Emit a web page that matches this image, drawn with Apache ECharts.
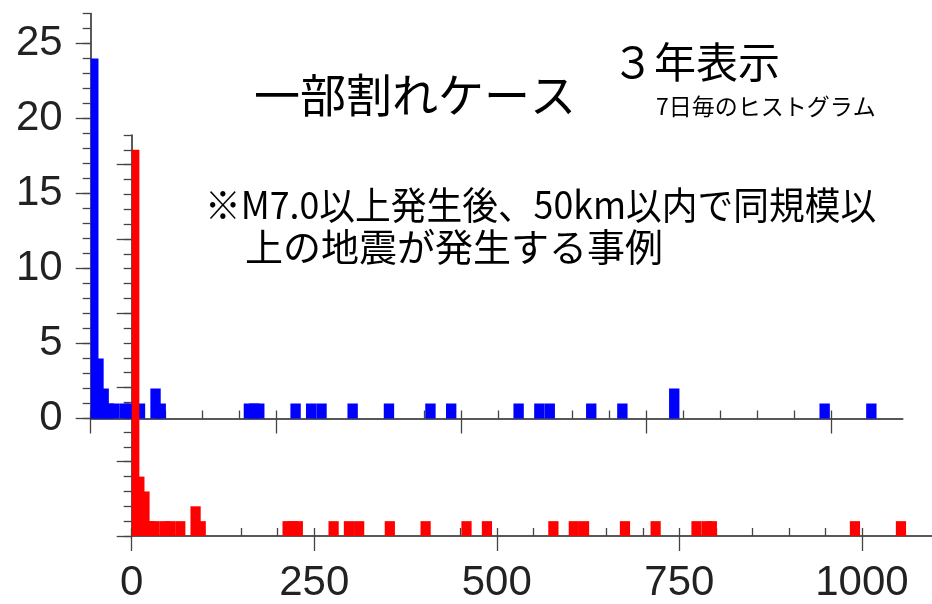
<!DOCTYPE html>
<html>
<head>
<meta charset="utf-8">
<script src="https://cdn.jsdelivr.net/npm/echarts@6/dist/echarts.min.js"></script>
<style>
  html, body { margin: 0; padding: 0; background: #fff; }
  #chart { width: 932px; height: 604px; }
</style>
</head>
<body>
<div id="chart"></div>
<script>
// Weekly histograms: bin index (days / 7) and number of events in that bin
const BIN_DAYS = 7;
const blueBins   = [0, 1, 2, 3, 4, 6, 7, 9, 12, 13, 30, 31, 32, 39, 42, 44, 50, 57, 65, 69, 82, 86, 88, 96, 102, 112, 141, 150];
const blueCounts = [24, 4, 2, 1, 1, 1, 1, 1, 2, 1, 1, 1, 1, 1, 1, 1, 1, 1, 1, 1, 1, 1, 1, 1, 1, 2, 1, 1];
const redBins    = [0, 1, 2, 3, 4, 6, 7, 9, 12, 13, 30, 31, 32, 39, 42, 44, 50, 57, 65, 69, 82, 86, 88, 96, 102, 110, 112, 113, 141, 150];
const redCounts  = [26, 4, 3, 1, 1, 1, 1, 1, 2, 1, 1, 1, 1, 1, 1, 1, 1, 1, 1, 1, 1, 1, 1, 1, 1, 1, 1, 1, 1, 1];

// Axis ranges and labelled ticks
const DAY_MAX = 1096;
const COUNT_MAX = 27;
const dayTicks = [0, 250, 500, 750, 1000];
const countTicks = [0, 5, 10, 15, 20, 25];
const DAY_MINOR_STEP = 50;

const dayMinor = [];
for (let d = 0; d <= DAY_MAX; d += DAY_MINOR_STEP) dayMinor.push(d);
const countMinor = [];
for (let c = 0; c <= COUNT_MAX; c++) countMinor.push(c);

const pairs = (bins, counts) => bins.map((b, i) => [b, counts[i]]);

const AXIS_COLOR = '#222';
const TICK_COLOR = '#444';
const NUM_FONT = 'Liberation Sans';
const NUM_SIZE = 42;

// geometry: 250 days = 185.25 px, 1 count = 15 px
const PX_PER_DAY = 185.25 / 250;
const PX_PER_COUNT = 15;
const GRID_W = DAY_MAX * PX_PER_DAY;
const GRID_H = COUNT_MAX * PX_PER_COUNT;

function barRenderer(color) {
  return function (params, api) {
    const center = api.value(0) * BIN_DAYS + BIN_DAYS / 2;
    const p0 = api.coord([center - BIN_DAYS, api.value(1)]);
    const p1 = api.coord([center + BIN_DAYS, 0]);
    const cs = params.coordSys;
    const rect = echarts.graphic.clipRectByRect(
      { x: p0[0], y: p0[1], width: p1[0] - p0[0], height: p1[1] - p0[1] },
      { x: cs.x, y: cs.y, width: cs.width, height: cs.height }
    );
    return rect && { type: 'rect', shape: rect, style: { fill: color } };
  };
}

const plainNumber = v => String(v);

function majorX(gridIndex, withLabels) {
  return {
    type: 'value', gridIndex, min: 0, max: DAY_MAX, interval: 250,
    axisLine: { show: true, lineStyle: { color: AXIS_COLOR, width: 1.5 } },
    axisTick: { show: true, length: 15, customValues: dayTicks, lineStyle: { color: TICK_COLOR, width: 1.3 } },
    axisLabel: withLabels
      ? { show: true, customValues: dayTicks, formatter: plainNumber, margin: 26,
          fontSize: NUM_SIZE, fontFamily: NUM_FONT, color: AXIS_COLOR }
      : { show: false },
    splitLine: { show: false }
  };
}
function minorX(gridIndex) {
  return {
    type: 'value', gridIndex, min: 0, max: DAY_MAX, interval: DAY_MINOR_STEP,
    axisLine: { show: false },
    axisTick: { show: true, length: 8, customValues: dayMinor, lineStyle: { color: TICK_COLOR, width: 1.3 } },
    axisLabel: { show: false },
    splitLine: { show: false }
  };
}
function majorY(gridIndex, withLabels) {
  return {
    type: 'value', gridIndex, min: 0, max: COUNT_MAX, interval: 5, position: 'left',
    axisLine: { show: true, lineStyle: { color: AXIS_COLOR, width: 1.5 } },
    axisTick: { show: true, length: 15, customValues: countTicks, lineStyle: { color: TICK_COLOR, width: 1.3 } },
    axisLabel: withLabels
      ? { show: true, customValues: countTicks, formatter: plainNumber, margin: 28,
          fontSize: NUM_SIZE, fontFamily: NUM_FONT, color: AXIS_COLOR }
      : { show: false },
    splitLine: { show: false }
  };
}
function minorY(gridIndex) {
  return {
    type: 'value', gridIndex, min: 0, max: COUNT_MAX, interval: 1, position: 'left', offset: 0,
    axisLine: { show: false },
    axisTick: { show: true, length: 8, customValues: countMinor, lineStyle: { color: TICK_COLOR, width: 1.3 } },
    axisLabel: { show: false },
    splitLine: { show: false }
  };
}

const chart = echarts.init(document.getElementById('chart'), null, { renderer: 'canvas' });

const CJK = '"Noto Sans CJK JP", "Noto Sans CJK SC", sans-serif';

chart.setOption({
  backgroundColor: '#fff',
  animation: false,
  grid: [
    { left: 90.7, top: 13.5, width: GRID_W, height: GRID_H, containLabel: false },
    { left: 131.7, top: 135, width: GRID_W, height: GRID_H, containLabel: false }
  ],
  xAxis: [majorX(0, false), minorX(0), majorX(1, true), minorX(1)],
  yAxis: [majorY(0, true), minorY(0), majorY(1, false), minorY(1)],
  series: [
    {
      type: 'custom', name: 'blue', xAxisIndex: 0, yAxisIndex: 0, z: 3,
      renderItem: barRenderer('#0000ff'),
      data: pairs(blueBins, blueCounts)
    },
    {
      type: 'custom', name: 'red', xAxisIndex: 2, yAxisIndex: 2, z: 4,
      renderItem: barRenderer('#ff0000'),
      data: pairs(redBins, redCounts)
    }
  ],
  graphic: [
    { type: 'text', x: 415, y: 95, z: 10,
      style: { text: '一部割れケース', font: '46px ' + CJK, fill: '#000', align: 'center', verticalAlign: 'middle' } },
    { type: 'text', x: 612, y: 62, z: 10,
      style: { text: '３年表示', font: '42px ' + CJK, fill: '#000', align: 'left', verticalAlign: 'middle' } },
    { type: 'text', x: 656, y: 106, z: 10,
      style: { text: '7日毎のヒストグラム', font: '23px ' + CJK, fill: '#000', align: 'left', verticalAlign: 'middle' } },
    { type: 'text', x: 205, y: 205, z: 10, scaleX: 0.94,
      style: { text: '※M7.0以上発生後、50km以内で同規模以', font: '38px ' + CJK, fill: '#000', align: 'left', verticalAlign: 'middle' } },
    { type: 'text', x: 245, y: 247, z: 10,
      style: { text: '上の地震が発生する事例', font: '38px ' + CJK, fill: '#000', align: 'left', verticalAlign: 'middle' } }
  ]
});
</script>
</body>
</html>
